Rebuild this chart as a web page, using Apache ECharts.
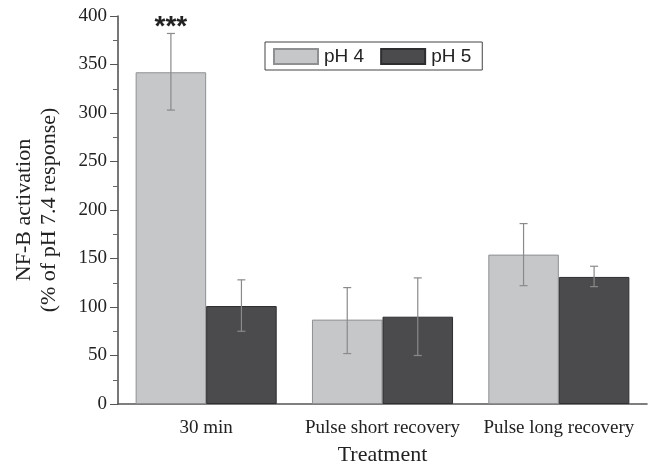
<!DOCTYPE html>
<html>
<head>
<meta charset="utf-8">
<script src="https://cdn.jsdelivr.net/npm/echarts@6/dist/echarts.min.js"></script>
<style>
  html, body { margin: 0; padding: 0; background: #fff; }
  #main { width: 651px; height: 466px; }
</style>
</head>
<body>
<div id="main"></div>
<script>
var categories = ['30 min', 'Pulse short recovery', 'Pulse long recovery'];
var ph4Values = [342, 87, 154];
var ph4Low = [303, 52, 122];
var ph4High = [382, 120, 186];
var ph5Values = [101, 90, 131];
var ph5Low = [75, 50, 121];
var ph5High = [128, 130, 142];
var ph4Marks = ['***', '', ''];

var serif = '"Liberation Serif", "Times New Roman", serif';
var sans = '"Liberation Sans", Arial, sans-serif';

var myChart = echarts.init(document.getElementById('main'));

var errorSeries = function(name, low, high, side, marks) {
    return {
        type: 'custom',
        name: name + ' err',
        z: 5,
        silent: true,
        data: categories.map(function(c, i) { return [i, low[i], high[i]]; }),
        renderItem: function(params, api) {
            var idx = api.value(0);
            var catWidth = api.size([1, 0])[0];
            var barWidth = catWidth * 0.8 / 2;
            var lowPt = api.coord([idx, api.value(1)]);
            var highPt = api.coord([idx, api.value(2)]);
            var x = lowPt[0] + side * barWidth / 2;
            var cap = 4;
            var style = { stroke: '#8a8a8a', lineWidth: 1.2 };
            var children = [
                { type: 'line', shape: { x1: x, y1: highPt[1], x2: x, y2: lowPt[1] }, style: style },
                { type: 'line', shape: { x1: x - cap, y1: highPt[1], x2: x + cap, y2: highPt[1] }, style: style },
                { type: 'line', shape: { x1: x - cap, y1: lowPt[1], x2: x + cap, y2: lowPt[1] }, style: style }
            ];
            if (marks && marks[idx]) {
                children.push({
                    type: 'text',
                    style: {
                        text: marks[idx],
                        x: x,
                        y: highPt[1] + 8,
                        align: 'center',
                        verticalAlign: 'bottom',
                        font: 'bold 28px ' + sans,
                        fill: '#222'
                    }
                });
            }
            return { type: 'group', children: children };
        }
    };
};

var option = {
    animation: false,
    backgroundColor: '#fff',
    grid: { left: 118, right: 4, top: 16, bottom: 62, outerBoundsMode: 'none', containLabel: false },
    legend: {
        data: ['pH 4', 'pH 5'],
        icon: 'rect',
        left: 265,
        top: 42,
        padding: [5, 11, 4, 8],
        itemWidth: 44,
        itemHeight: 15,
        itemGap: 16,
        borderColor: '#444',
        borderWidth: 1,
        borderRadius: 0,
        textStyle: { fontFamily: sans, fontSize: 19, color: '#222', padding: [0, 0, 0, 1] }
    },
    xAxis: [{
        type: 'category',
        data: categories,
        name: 'Treatment',
        nameLocation: 'middle',
        nameGap: 40,
        nameTextStyle: { fontFamily: serif, fontSize: 22, color: '#222' },
        axisLine: { lineStyle: { color: '#555', width: 1.6 } },
        axisTick: { alignWithLabel: true, length: 6, lineStyle: { color: '#555' } },
        axisLabel: { interval: 0, hideOverlap: false, fontFamily: serif, fontSize: 19, color: '#222', margin: 15 }
    }, {
        type: 'category',
        data: categories,
        position: 'bottom',
        axisLine: { show: false },
        axisTick: { inside: true, length: 4, lineStyle: { color: '#666' } },
        axisLabel: { show: false }
    }],
    yAxis: {
        type: 'value',
        min: 0,
        max: 400,
        interval: 50,
        name: 'NF-B activation\n(% of pH 7.4 response)',
        nameLocation: 'middle',
        nameGap: 56,
        nameTextStyle: { fontFamily: serif, fontSize: 22, color: '#222', lineHeight: 25 },
        axisLine: { show: true, lineStyle: { color: '#555', width: 1.6 } },
        axisTick: { show: true, length: 8, lineStyle: { color: '#555' } },
        minorTick: { show: true, splitNumber: 2, length: 5, lineStyle: { color: '#666' } },
        splitLine: { show: false },
        axisLabel: { fontFamily: serif, fontSize: 19, color: '#222', margin: 11 }
    },
    series: [
        {
            name: 'pH 4',
            type: 'bar',
            data: ph4Values,
            barGap: 0,
            barCategoryGap: '20%',
            itemStyle: { color: '#c6c7c9', borderColor: '#8f9092', borderWidth: 1 }
        },
        {
            name: 'pH 5',
            type: 'bar',
            data: ph5Values,
            barGap: 0,
            barCategoryGap: '20%',
            itemStyle: { color: '#4b4b4d', borderColor: '#2e2e30', borderWidth: 1 }
        },
        errorSeries('pH 4', ph4Low, ph4High, -1, ph4Marks),
        errorSeries('pH 5', ph5Low, ph5High, 1, null)
    ]
};

myChart.setOption(option);
</script>
</body>
</html>
